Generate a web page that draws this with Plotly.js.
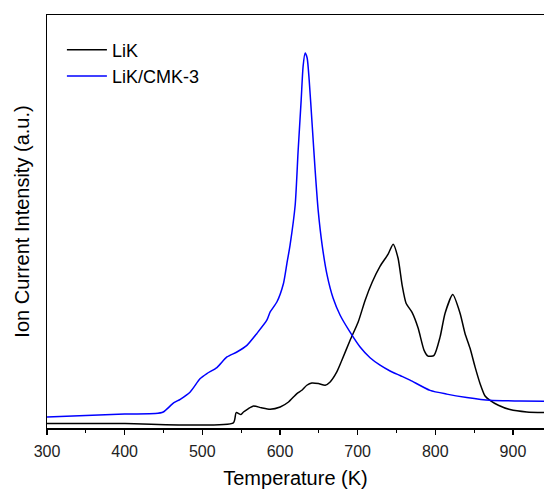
<!DOCTYPE html>
<html>
<head>
<meta charset="utf-8">
<script src="https://cdn.plot.ly/plotly-3.0.1.min.js"></script>
<style>html,body{margin:0;padding:0;background:#fff;}#chart{width:544px;height:489px;}</style>
</head>
<body>
<div id="chart"></div>
<script>
// LiK series (temperature K, intensity a.u.)
const likT = [300, 400, 540, 543.6, 549.7, 553, 559, 566, 576, 587.4, 600.3, 611, 621.8, 628.2, 634.6, 641, 649.5, 658.2, 664.6, 673.2, 679.7, 690.3, 700.6, 709.6, 718.7, 729, 739.3, 745.7, 752.1, 757.3, 762.4, 770.1, 777.9, 785.6, 790.7, 798.4, 806.2, 812.6, 822.5, 831.9, 838.3, 844.8, 851.2, 857.6, 864.1, 870.5, 881.2, 896.2, 917.8, 940];
const likI = [1.07, 1.09, 1.26, 3.73, 3.25, 3.88, 4.65, 5.33, 4.89, 4.53, 5.09, 6.3, 8.34, 9.14, 10.35, 10.9, 10.76, 10.35, 11.15, 13.57, 16.4, 21.25, 25.6, 30.9, 35.3, 39.2, 42.1, 44.5, 41.1, 34.6, 30.2, 28.0, 24.2, 18.8, 17.4, 17.6, 22.05, 27.8, 32.3, 27.8, 22.9, 19.3, 14.8, 10.8, 7.75, 6.7, 5.5, 4.46, 3.88, 3.73];
// LiK/CMK-3 series
const cmkT = [300, 400, 439.4, 449.7, 463, 471.6, 484.4, 497.3, 505.9, 518.8, 531.7, 544.5, 557.4, 570.3, 583.1, 587.4, 596, 604.5, 608.9, 613, 619.6, 623.4, 627.3, 629.8, 632.4, 635, 637.6, 641.5, 645.3, 649.2, 654.3, 660.7, 668.5, 677.5, 690.3, 703.2, 716, 728.9, 741.8, 754.7, 767.5, 793.3, 814.8, 840.5, 870.5, 909, 940];
const cmkI = [2.67, 3.39, 3.49, 3.88, 6.06, 6.95, 8.72, 11.97, 13.18, 14.64, 17.2, 18.4, 20.0, 22.9, 26.1, 28.1, 30.5, 35.0, 39.8, 44.3, 54.0, 67.2, 79.4, 87.6, 90.8, 89.6, 84.3, 73.3, 62.4, 52.7, 44.3, 37.0, 31.4, 27.3, 23.2, 19.6, 17.0, 15.2, 13.8, 12.7, 11.6, 9.1, 8.2, 7.4, 6.7, 6.54, 6.47];
const seriesNames = ["LiK", "LiK/CMK-3"];
const xTicks = [300, 400, 500, 600, 700, 800, 900];

const font = "Liberation Sans, Arial, sans-serif";
const data = [
  {x: likT, y: likI, type: "scatter", mode: "lines", name: seriesNames[0],
   line: {color: "#000000", width: 1.5, shape: "spline", smoothing: 0.6}},
  {x: cmkT, y: cmkI, type: "scatter", mode: "lines", name: seriesNames[1],
   line: {color: "#0000ff", width: 1.5, shape: "spline", smoothing: 0.6}}
];
const layout = {
  width: 544, height: 489,
  margin: {l: 47, r: 0, t: 15, b: 61},
  paper_bgcolor: "#fff", plot_bgcolor: "#fff",
  showlegend: true,
  legend: {x: 0.03, y: 0.96, xanchor: "left", yanchor: "top", bgcolor: "rgba(0,0,0,0)",
           font: {family: font, size: 18, color: "#000"}, tracegroupgap: 0, itemwidth: 40},
  xaxis: {
    range: [300, 940], tickvals: xTicks, ticktext: xTicks.map(String),
    showgrid: false, zeroline: false, showline: true, linecolor: "#000", linewidth: 1.5,
    mirror: true, ticks: "outside", ticklen: 5, tickwidth: 1.2, tickcolor: "#000",
    ticklabelstandoff: 3,
    minor: {dtick: 50, tick0: 300, ticks: "outside", ticklen: 3, tickwidth: 1, tickcolor: "#000", showgrid: false},
    tickfont: {family: font, size: 16, color: "#222"},
    title: {text: "Temperature (K)", font: {family: font, size: 20, color: "#000"}, standoff: 15}
  },
  yaxis: {
    range: [0, 100], showticklabels: false, ticks: "", showgrid: false, zeroline: false,
    showline: true, linecolor: "#000", linewidth: 1.5, mirror: false,
    title: {text: "Ion Current Intensity (a.u.)", font: {family: font, size: 20, color: "#000"}, standoff: 10}
  }
};
Plotly.newPlot("chart", data, layout, {displayModeBar: false, staticPlot: true});
</script>
</body>
</html>
